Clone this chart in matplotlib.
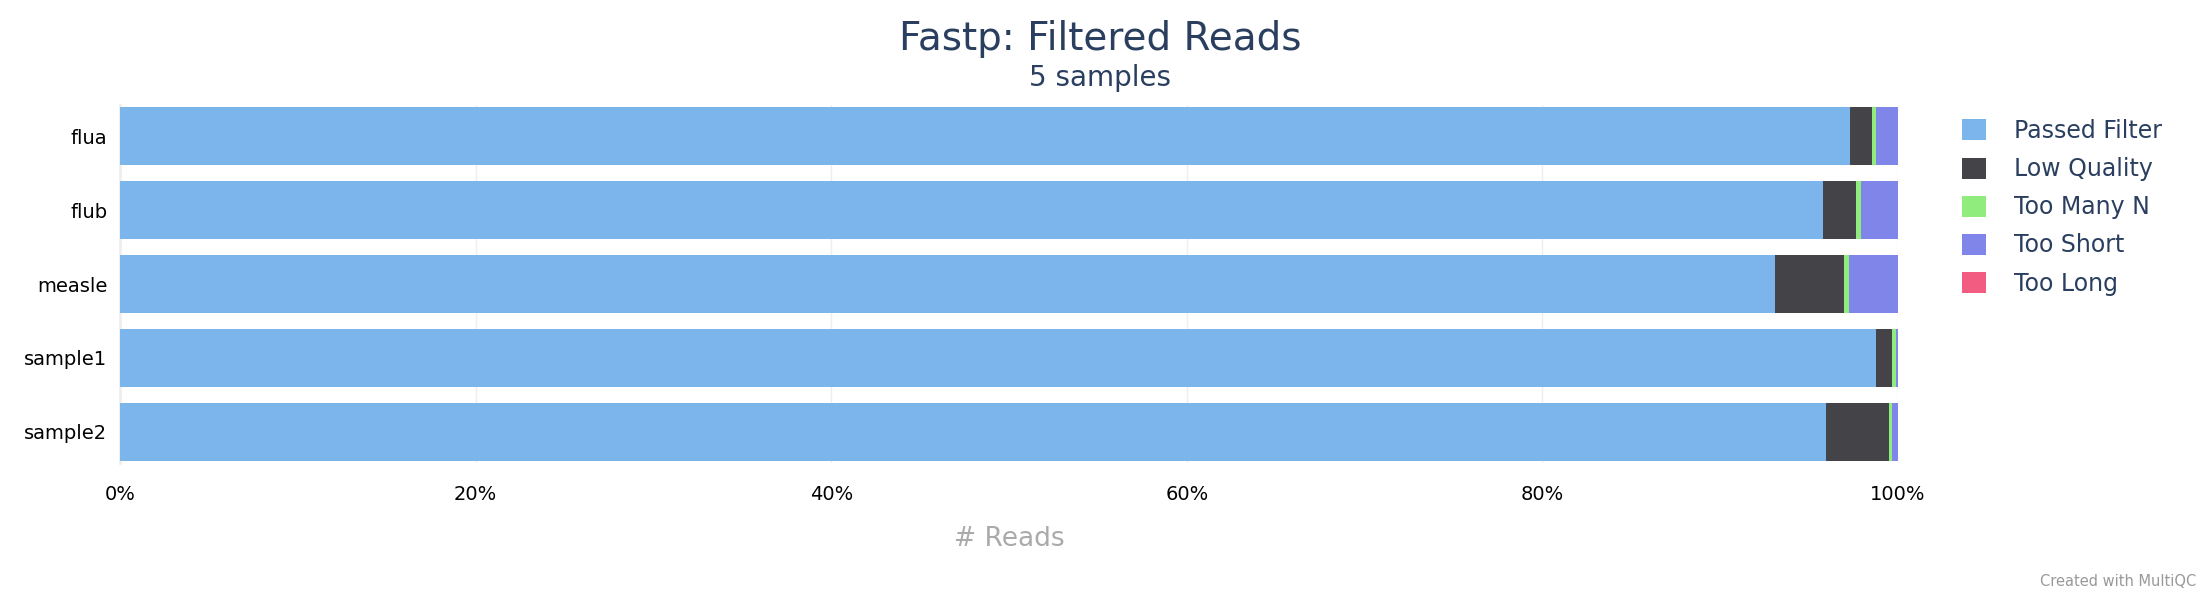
import numpy as np
import matplotlib.pyplot as plt

# samples and filter categories (percent of reads)
samples = ['flua', 'flub', 'measle', 'sample1', 'sample2']
categories = ['Passed Filter', 'Low Quality', 'Too Many N', 'Too Short', 'Too Long']
colors = ['#7cb5ec', '#434348', '#90ed7d', '#8085e9', '#f15c80']

passed_filter = [97.30, 95.80, 93.10, 98.75, 95.95]
low_quality = [1.24, 1.82, 3.88, 0.94, 3.52]
too_many_n = [0.22, 0.30, 0.28, 0.19, 0.17]
too_short = [1.24, 2.08, 2.74, 0.12, 0.36]
too_long = [0.0, 0.0, 0.0, 0.0, 0.0]

series = [passed_filter, low_quality, too_many_n, too_short, too_long]

title_color = '#2a3f5f'

fig = plt.figure(figsize=(22, 6), dpi=100)
ax = fig.add_axes([120 / 2200, 1 - 463 / 600, 1778 / 2200, 358 / 600])

y = np.arange(len(samples))
left = np.zeros(len(samples))
for name, vals, col in zip(categories, series, colors):
    vals = np.array(vals)
    ax.barh(y, vals, left=left, height=0.79, color=col, label=name,
            edgecolor='none', zorder=3)
    left += vals

ax.set_xlim(0, 100)
ax.set_ylim(4.42, -0.42)
ax.set_yticks(y)
ax.set_yticklabels(samples)
ax.set_xticks(np.arange(0, 101, 20))
ax.set_xticklabels([f'{v}%' for v in range(0, 101, 20)])
ax.tick_params(axis='both', length=0, labelsize=14, colors='black')
ax.tick_params(axis='x', pad=16)
ax.tick_params(axis='y', pad=9)
ax.grid(axis='x', color='#eeeeee', linewidth=1, zorder=0)
for s in ['top', 'right', 'bottom']:
    ax.spines[s].set_visible(False)
ax.spines['left'].set_color('#eeeeee')
ax.spines['left'].set_linewidth(2)

ax.set_xlabel('# Reads', fontsize=19, color='#aaaaaa', labelpad=16)

fig.text(0.5, 1 - 39 / 600, 'Fastp: Filtered Reads', ha='center', va='center',
         fontsize=28, color=title_color)
fig.text(0.5, 1 - 78 / 600, '5 samples', ha='center', va='center',
         fontsize=20, color=title_color)

leg = ax.legend(loc='upper left', bbox_to_anchor=(1962 / 2200, 1 - 119 / 600),
                bbox_transform=fig.transFigure, frameon=False, fontsize=17,
                handlelength=1.0, handleheight=1.0, handletextpad=1.2,
                labelspacing=0.6, borderaxespad=0, borderpad=0)
for t in leg.get_texts():
    t.set_color(title_color)

fig.text(2196 / 2200, 1 - 581 / 600, 'Created with MultiQC', ha='right', va='center',
         fontsize=10.5, color='#999999')

fig.savefig('out.png', dpi=100)
